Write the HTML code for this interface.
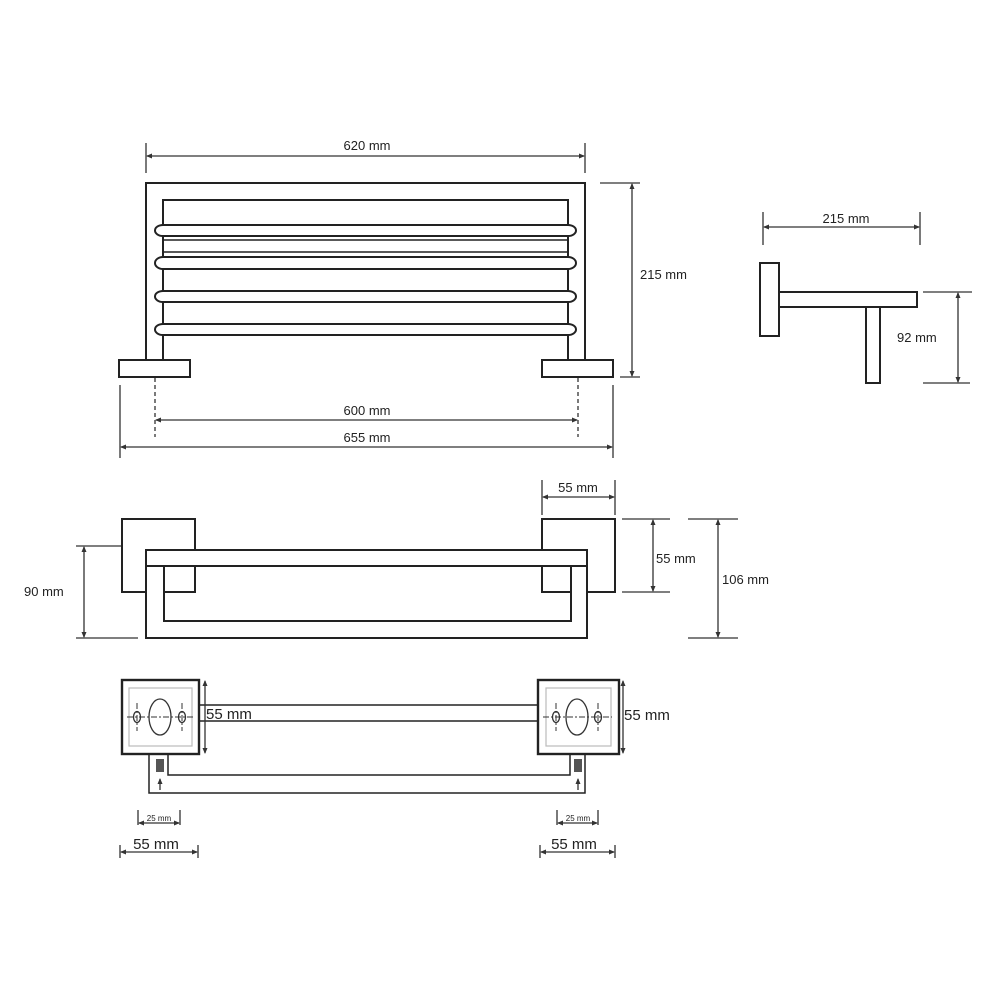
<!DOCTYPE html>
<html><head><meta charset="utf-8"><style>
html,body{margin:0;padding:0;background:#fff}
svg{display:block}
text{font-family:"Liberation Sans",sans-serif;font-size:13px;fill:#222}
</style></head><body>
<svg width="1000" height="1000" viewBox="0 0 1000 1000" xmlns="http://www.w3.org/2000/svg">
<defs>
<marker id="a" markerWidth="6" markerHeight="6" refX="5" refY="3" orient="auto-start-reverse" markerUnits="userSpaceOnUse"><path d="M0,0.5 L6,3 L0,5.5z" fill="#333"/></marker>
</defs>
<g fill="none" stroke="#222" stroke-width="2">
<path d="M146,360 V183 H585 V360"/>
<path d="M163,360 V200 H568 V360"/>
<rect x="119" y="360" width="71" height="17"/>
<rect x="542" y="360" width="71" height="17"/>
<path d="M163,225 H568 A8,5.5 0 0 1 568,236 H163 A8,5.5 0 0 1 163,225z" fill="#fff"/>
<path d="M163,257 H568 A8,6 0 0 1 568,269 H163 A8,6 0 0 1 163,257z" fill="#fff"/>
<path d="M163,291 H568 A8,5.5 0 0 1 568,302 H163 A8,5.5 0 0 1 163,291z" fill="#fff"/>
<path d="M163,324 H568 A8,5.5 0 0 1 568,335 H163 A8,5.5 0 0 1 163,324z" fill="#fff"/>
<line x1="163" y1="240" x2="568" y2="240" stroke-width="1.5"/>
<line x1="163" y1="252" x2="568" y2="252" stroke-width="1.5"/>
</g>
<g fill="none" stroke="#333" stroke-width="1.3">
<line x1="146" y1="143" x2="146" y2="173"/><line x1="585" y1="143" x2="585" y2="173"/>
<line x1="147" y1="156" x2="584" y2="156" marker-start="url(#a)" marker-end="url(#a)"/>
<line x1="600" y1="183" x2="640" y2="183"/><line x1="620" y1="377" x2="640" y2="377"/>
<line x1="632" y1="184" x2="632" y2="376" marker-start="url(#a)" marker-end="url(#a)"/>
<line x1="155" y1="378" x2="155" y2="437" stroke-dasharray="4,3"/><line x1="578" y1="378" x2="578" y2="437" stroke-dasharray="4,3"/>
<line x1="156" y1="420" x2="577" y2="420" marker-start="url(#a)" marker-end="url(#a)"/>
<line x1="120" y1="385" x2="120" y2="458"/><line x1="613" y1="385" x2="613" y2="458"/>
<line x1="121" y1="447" x2="612" y2="447" marker-start="url(#a)" marker-end="url(#a)"/>
</g>
<text x="367" y="150" text-anchor="middle">620 mm</text>
<text x="640" y="279">215 mm</text>
<text x="367" y="415" text-anchor="middle">600 mm</text>
<text x="367" y="442" text-anchor="middle">655 mm</text>
<g fill="none" stroke="#222" stroke-width="2">
<rect x="760" y="263" width="19" height="73"/>
<rect x="779" y="292" width="138" height="15"/>
<rect x="866" y="307" width="14" height="76"/>
</g>
<g fill="none" stroke="#333" stroke-width="1.3">
<line x1="763" y1="212" x2="763" y2="245"/><line x1="920" y1="212" x2="920" y2="245"/>
<line x1="764" y1="227" x2="919" y2="227" marker-start="url(#a)" marker-end="url(#a)"/>
<line x1="923" y1="292" x2="972" y2="292"/><line x1="923" y1="383" x2="970" y2="383"/>
<line x1="958" y1="293" x2="958" y2="382" marker-start="url(#a)" marker-end="url(#a)"/>
</g>
<text x="846" y="223" text-anchor="middle">215 mm</text>
<text x="897" y="342">92 mm</text>
<g fill="none" stroke="#222" stroke-width="2">
<path d="M146,592 H122 V519 H195 V550"/>
<path d="M164,592 H195 V566"/>
<path d="M587,592 H615 V519 H542 V550"/>
<path d="M571,592 H542 V566"/>
<rect x="146" y="550" width="441" height="16"/>
<path d="M146,566 V638 H587 V566"/>
<path d="M164,566 V621 H571 V566"/>
</g>
<g fill="none" stroke="#333" stroke-width="1.3">
<line x1="542" y1="480" x2="542" y2="515"/><line x1="615" y1="480" x2="615" y2="515"/>
<line x1="543" y1="497" x2="614" y2="497" marker-start="url(#a)" marker-end="url(#a)"/>
<line x1="622" y1="519" x2="670" y2="519"/><line x1="622" y1="592" x2="670" y2="592"/>
<line x1="653" y1="520" x2="653" y2="591" marker-start="url(#a)" marker-end="url(#a)"/>
<line x1="688" y1="519" x2="738" y2="519"/><line x1="688" y1="638" x2="738" y2="638"/>
<line x1="718" y1="520" x2="718" y2="637" marker-start="url(#a)" marker-end="url(#a)"/>
<line x1="76" y1="546" x2="121" y2="546"/><line x1="76" y1="638" x2="138" y2="638"/>
<line x1="84" y1="547" x2="84" y2="637" marker-start="url(#a)" marker-end="url(#a)"/>
</g>
<text x="578" y="492" text-anchor="middle">55 mm</text>
<text x="656" y="563">55 mm</text>
<text x="722" y="584">106 mm</text>
<text x="24" y="596">90 mm</text>
<g fill="none" stroke="#222" stroke-width="1.5">
<line x1="200" y1="705" x2="538" y2="705"/><line x1="200" y1="721" x2="538" y2="721"/>
<path d="M149,754 V793 H585 V754"/>
<path d="M168,754 V775 H570 V754"/>
</g>
<g fill="#fff" stroke="#222" stroke-width="2.4">
<rect x="122" y="680" width="77" height="74"/>
<rect x="538" y="680" width="81" height="74"/>
</g>
<g fill="none" stroke="#bbb" stroke-width="1.2">
<rect x="129" y="688" width="63" height="58"/>
<rect x="546" y="688" width="65" height="58"/>
</g>
<g fill="none" stroke="#333" stroke-width="1.3">
<ellipse cx="160" cy="717" rx="11" ry="18"/><ellipse cx="137" cy="717" rx="3.5" ry="5.5"/><ellipse cx="182" cy="717" rx="3.5" ry="5.5"/>
<ellipse cx="577" cy="717" rx="11" ry="18"/><ellipse cx="556" cy="717" rx="3.5" ry="5.5"/><ellipse cx="598" cy="717" rx="3.5" ry="5.5"/>
<g stroke-dasharray="6,2,2,2" stroke-width="1">
<line x1="127" y1="717" x2="194" y2="717"/><line x1="137" y1="703" x2="137" y2="731"/><line x1="182" y1="703" x2="182" y2="731"/>
<line x1="543" y1="717" x2="612" y2="717"/><line x1="556" y1="703" x2="556" y2="731"/><line x1="598" y1="703" x2="598" y2="731"/>
</g>
<line x1="205" y1="681" x2="205" y2="753" marker-start="url(#a)" marker-end="url(#a)"/>
<line x1="623" y1="681" x2="623" y2="753" marker-start="url(#a)" marker-end="url(#a)"/>
<line x1="160" y1="790" x2="160" y2="779" marker-end="url(#a)"/>
<line x1="578" y1="790" x2="578" y2="779" marker-end="url(#a)"/>
<line x1="138" y1="810" x2="138" y2="825"/><line x1="180" y1="810" x2="180" y2="825"/>
<line x1="139" y1="823" x2="179" y2="823" marker-start="url(#a)" marker-end="url(#a)"/>
<line x1="557" y1="810" x2="557" y2="825"/><line x1="598" y1="810" x2="598" y2="825"/>
<line x1="558" y1="823" x2="597" y2="823" marker-start="url(#a)" marker-end="url(#a)"/>
<line x1="120" y1="845" x2="120" y2="858"/><line x1="198" y1="845" x2="198" y2="858"/>
<line x1="121" y1="852" x2="197" y2="852" marker-start="url(#a)" marker-end="url(#a)"/>
<line x1="540" y1="845" x2="540" y2="858"/><line x1="615" y1="845" x2="615" y2="858"/>
<line x1="541" y1="852" x2="614" y2="852" marker-start="url(#a)" marker-end="url(#a)"/>
</g>
<rect x="156" y="759" width="8" height="13" fill="#555"/>
<rect x="574" y="759" width="8" height="13" fill="#555"/>
<text x="206" y="719" style="font-size:15px">55 mm</text>
<text x="624" y="720" style="font-size:15px">55 mm</text>
<text x="159" y="821" text-anchor="middle" style="font-size:8px">25 mm</text>
<text x="578" y="821" text-anchor="middle" style="font-size:8px">25 mm</text>
<text x="156" y="849" text-anchor="middle" style="font-size:15px">55 mm</text>
<text x="574" y="849" text-anchor="middle" style="font-size:15px">55 mm</text>
</svg>
</body></html>
